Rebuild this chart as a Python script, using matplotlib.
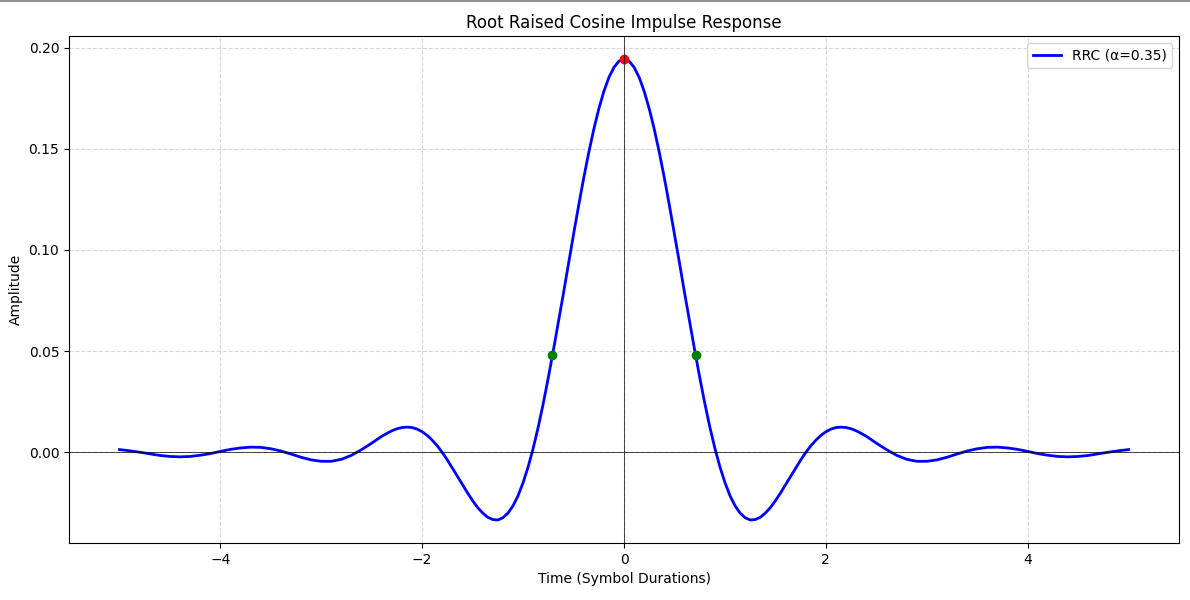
import numpy as np
import matplotlib
matplotlib.use("Agg")
import matplotlib.pyplot as plt
from matplotlib.lines import Line2D

# Time axis (symbol durations) and RRC amplitude
t = [-5.0, -4.9, -4.8, -4.7, -4.6, -4.5, -4.4, -4.3, -4.2, -4.1,
     -4.0, -3.9, -3.8, -3.7, -3.6, -3.5, -3.4, -3.3, -3.2, -3.1,
     -3.0, -2.9, -2.8, -2.7,
     -2.6, -2.55, -2.5, -2.45, -2.4, -2.35, -2.3, -2.25, -2.2, -2.15, -2.1, -2.05,
     -2.0, -1.95, -1.9, -1.85, -1.8, -1.75, -1.7, -1.65, -1.6, -1.55,
     -1.5, -1.45, -1.4, -1.35, -1.3, -1.25, -1.2, -1.15, -1.1, -1.05,
     -1.0, -0.95, -0.9, -0.85, -0.8, -0.75, -0.7, -0.65, -0.6, -0.55,
     -0.5, -0.45, -0.4, -0.35, -0.3, -0.25, -0.2, -0.15, -0.1, -0.05,
     0.0,
     0.05, 0.1, 0.15, 0.2, 0.25, 0.3, 0.35, 0.4, 0.45, 0.5,
     0.55, 0.6, 0.65, 0.7, 0.75, 0.8, 0.85, 0.9, 0.95, 1.0,
     1.05, 1.1, 1.15, 1.2, 1.25, 1.3, 1.35, 1.4, 1.45, 1.5,
     1.55, 1.6, 1.65, 1.7, 1.75, 1.8, 1.85, 1.9, 1.95, 2.0,
     2.05, 2.1, 2.15, 2.2, 2.25, 2.3, 2.35, 2.4, 2.45, 2.5, 2.55, 2.6,
     2.7, 2.8, 2.9,
     3.0, 3.1, 3.2, 3.3, 3.4, 3.5, 3.6, 3.7, 3.8, 3.9,
     4.0, 4.1, 4.2, 4.3, 4.4, 4.5, 4.6, 4.7, 4.8, 4.9, 5.0]

h = [0.0013, 0.0007, 0.0000, -0.0008, -0.0016, -0.0021, -0.0023, -0.0021, -0.0015, -0.0007,
     0.0004, 0.0014, 0.0021, 0.0025, 0.0024, 0.0017, 0.0006, -0.0009, -0.0025, -0.0038,
     -0.0045, -0.0045, -0.0035, -0.0015,
     0.0013, 0.0029, 0.0045, 0.0062, 0.0079, 0.0093, 0.0106, 0.0116, 0.0122, 0.0124, 0.0122, 0.0114,
     0.0101, 0.0083, 0.0059, 0.0031, -0.0002, -0.0039, -0.0079, -0.0120, -0.0161, -0.0202,
     -0.0240, -0.0274, -0.0301, -0.0322, -0.0333, -0.0335, -0.0324, -0.0301, -0.0265, -0.0215,
     -0.0150, -0.0072, 0.0020, 0.0125, 0.0242, 0.0370, 0.0505, 0.0645, 0.0787, 0.0934,
     0.1078, 0.1219, 0.1355, 0.1481, 0.1596, 0.1698, 0.1784, 0.1853, 0.1903, 0.1934,
     0.1944,
     0.1934, 0.1903, 0.1853, 0.1784, 0.1698, 0.1596, 0.1481, 0.1355, 0.1219, 0.1078,
     0.0934, 0.0787, 0.0645, 0.0505, 0.0370, 0.0242, 0.0125, 0.0020, -0.0072, -0.0150,
     -0.0215, -0.0265, -0.0301, -0.0324, -0.0335, -0.0333, -0.0322, -0.0301, -0.0274, -0.0240,
     -0.0202, -0.0161, -0.0120, -0.0079, -0.0039, -0.0002, 0.0031, 0.0059, 0.0083, 0.0101,
     0.0114, 0.0122, 0.0124, 0.0122, 0.0116, 0.0106, 0.0093, 0.0079, 0.0062, 0.0045, 0.0029, 0.0013,
     -0.0015, -0.0035, -0.0045,
     -0.0045, -0.0038, -0.0025, -0.0009, 0.0006, 0.0017, 0.0024, 0.0025, 0.0021, 0.0014,
     0.0004, -0.0007, -0.0015, -0.0021, -0.0023, -0.0021, -0.0016, -0.0008, 0.0000, 0.0007, 0.0013]

# marked points: peak and the +-1/(4*alpha) points
peak_t = [0.0]
peak_h = [0.1944]
mark_t = [-0.714, 0.714]
mark_h = [0.0480, 0.0480]

fig = plt.figure(figsize=(11.9, 6), dpi=100)
plt.subplots_adjust(left=0.058, right=0.9908, top=0.94, bottom=0.095)

plt.plot(t, h, color='blue', linewidth=2, label='RRC (α=0.35)')
plt.plot(peak_t, peak_h, 'ro')
plt.plot(mark_t, mark_h, 'go')
plt.axhline(0, color='black', linewidth=0.5)
plt.axvline(0, color='black', linewidth=0.5)

plt.title("Root Raised Cosine Impulse Response")
plt.xlabel("Time (Symbol Durations)")
plt.ylabel("Amplitude")
plt.grid(True, linestyle='--', alpha=0.5)
plt.legend(loc='upper right')

# thin grey border line along the top edge of the image
fig.add_artist(Line2D([0, 1], [0.999, 0.999], transform=fig.transFigure,
                      color='#7a7a7a', linewidth=1.2))

plt.savefig("out.png", dpi=100)
